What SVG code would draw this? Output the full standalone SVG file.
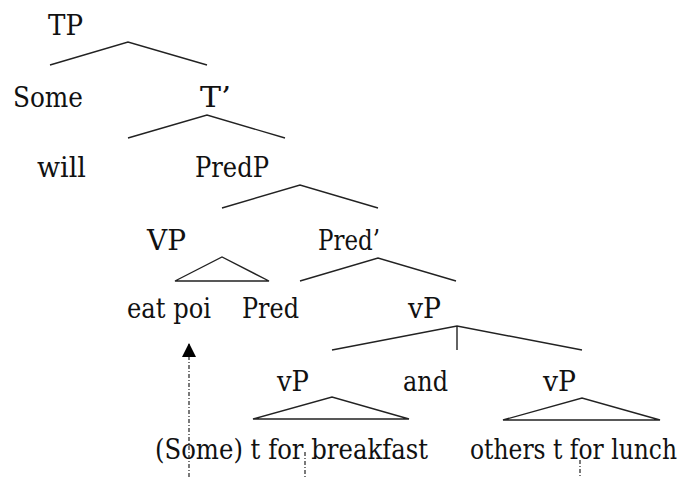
<svg xmlns="http://www.w3.org/2000/svg" width="686" height="477" viewBox="0 0 686 477">
<defs>
<style>
.t{font-family:'DejaVu Serif',serif;font-size:27px;fill:#111}
.e{stroke:#222;stroke-width:1.4;fill:none}
.d{stroke:#222;stroke-width:1.2;fill:none;stroke-dasharray:4 2 1 2}
</style>
<marker id="ah" viewBox="0 0 10 10" refX="10" refY="5" markerWidth="14" markerHeight="14" markerUnits="userSpaceOnUse" orient="auto">
<path d="M0,0 L10,5 L0,10 z" fill="#000"/>
</marker>
</defs>
<rect width="686" height="477" fill="#fff"/>
<g id="connectors">
<polyline class="e" points="50,65 128,42 207,65"/>
<polyline class="e" points="128,138 207,115 285,138"/>
<polyline class="e" points="222,208 300,185 378,208"/>
<polygon class="e" points="175,281 222,257 269,281"/>
<polyline class="e" points="300,281 378,258 456,281"/>
<polyline class="e" points="332,350 457,326 582,350"/>
<line class="e" x1="457" y1="326" x2="457" y2="350"/>
<polygon class="e" points="253,419 332,397 409,419"/>
<polygon class="e" points="503,420 582,398 660,420"/>
<line class="d" x1="189" y1="477" x2="189" y2="343" marker-end="url(#ah)"/>
<line class="d" x1="305" y1="452" x2="305" y2="477"/>
<line class="d" x1="580" y1="460" x2="580" y2="477"/>
</g>
<g class="t">
<g id="n-TP"><text x="48" y="35" textLength="35" lengthAdjust="spacingAndGlyphs">TP</text></g>
<g id="n-Some"><text x="13" y="107" textLength="70" lengthAdjust="spacingAndGlyphs">Some</text></g>
<g id="n-Tbar"><text x="200" y="107" textLength="31" lengthAdjust="spacingAndGlyphs">T’</text></g>
<g id="n-will"><text x="37" y="177" textLength="49" lengthAdjust="spacingAndGlyphs">will</text></g>
<g id="n-PredP"><text x="195" y="177" textLength="74" lengthAdjust="spacingAndGlyphs">PredP</text></g>
<g id="n-VP"><text x="147" y="250" textLength="39" lengthAdjust="spacingAndGlyphs">VP</text></g>
<g id="n-Predbar"><text x="318" y="250" textLength="62" lengthAdjust="spacingAndGlyphs">Pred’</text></g>
<g id="n-eatpoi"><text x="127" y="318" textLength="84" lengthAdjust="spacingAndGlyphs">eat poi</text></g>
<g id="n-Pred"><text x="242" y="318" textLength="57" lengthAdjust="spacingAndGlyphs">Pred</text></g>
<g id="n-vP"><text x="408" y="318" textLength="33" lengthAdjust="spacingAndGlyphs">vP</text></g>
<g id="n-vP1"><text x="277" y="391" textLength="32" lengthAdjust="spacingAndGlyphs">vP</text></g>
<g id="n-and"><text x="403" y="391" textLength="45" lengthAdjust="spacingAndGlyphs">and</text></g>
<g id="n-vP2"><text x="543" y="391" textLength="33" lengthAdjust="spacingAndGlyphs">vP</text></g>
<g id="n-breakfast"><text x="155" y="459" textLength="273" lengthAdjust="spacingAndGlyphs">(Some) t for breakfast</text></g>
<g id="n-lunch"><text x="470" y="459" textLength="207" lengthAdjust="spacingAndGlyphs">others t for lunch</text></g>
</g>
</svg>
